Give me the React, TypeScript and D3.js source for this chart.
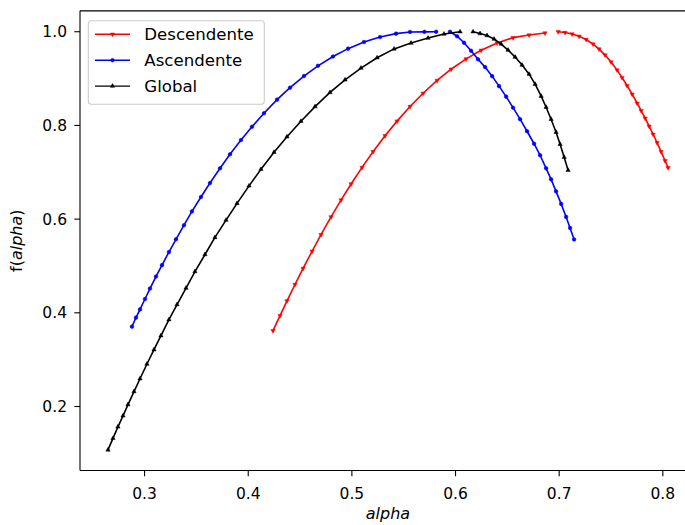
import React from 'react';
import * as d3 from 'd3';

// ---- Data ----
// Descendente (red): left branch and right branch
const descLeftAlpha = [0.4239, 0.4307, 0.4374, 0.4451, 0.4529, 0.4616, 0.4702, 0.4799, 0.4895, 0.4992, 0.5098, 0.5204, 0.5320, 0.5436, 0.5561, 0.5687, 0.5822, 0.5957, 0.6102, 0.6247, 0.6401, 0.6555, 0.6710, 0.6864];
const descLeftF = [0.3619, 0.394, 0.4255, 0.4605, 0.4948, 0.5313, 0.5668, 0.6047, 0.6406, 0.6749, 0.7104, 0.744, 0.7778, 0.8092, 0.8404, 0.8687, 0.896, 0.92, 0.942, 0.9604, 0.976, 0.9874, 0.9929, 0.9972];
const descRightAlpha = [0.6990, 0.7057, 0.7125, 0.7192, 0.7260, 0.7327, 0.7385, 0.7443, 0.7501, 0.7559, 0.7607, 0.7655, 0.7704, 0.7752, 0.7791, 0.7829, 0.7868, 0.7906, 0.7945, 0.7984, 0.8022, 0.8051];
const descRightF = [1.0, 0.9983, 0.9951, 0.9902, 0.9833, 0.9737, 0.963, 0.9502, 0.9352, 0.9181, 0.902, 0.8849, 0.8667, 0.8475, 0.8314, 0.8154, 0.7983, 0.7812, 0.763, 0.7437, 0.7245, 0.7095];

// Ascendente (blue)
const ascLeftAlpha = [0.2878, 0.2917, 0.2956, 0.3004, 0.3052, 0.3110, 0.3168, 0.3235, 0.3303, 0.3380, 0.3457, 0.3544, 0.3631, 0.3728, 0.3824, 0.3930, 0.4036, 0.4152, 0.4278, 0.4403, 0.4538, 0.4673, 0.4818, 0.4963, 0.5117, 0.5272, 0.5426, 0.5561, 0.5700, 0.5813];
const ascLeftF = [0.3705, 0.3897, 0.4073, 0.4295, 0.4518, 0.4774, 0.5018, 0.5298, 0.557, 0.587, 0.6165, 0.6473, 0.677, 0.7085, 0.7384, 0.7688, 0.7972, 0.8261, 0.855, 0.8806, 0.9055, 0.9273, 0.9472, 0.9639, 0.978, 0.9887, 0.9959, 0.9996, 0.9998, 1.0];
const ascRightAlpha = [0.5947, 0.6015, 0.6082, 0.6150, 0.6217, 0.6285, 0.6353, 0.6420, 0.6488, 0.6555, 0.6623, 0.6690, 0.6758, 0.6816, 0.6874, 0.6922, 0.6970, 0.7019, 0.7067, 0.7105, 0.7144];
const ascRightF = [1.0, 0.9904, 0.9765, 0.9594, 0.9412, 0.9245, 0.9052, 0.8839, 0.8614, 0.8379, 0.8133, 0.7876, 0.7609, 0.7363, 0.7085, 0.6849, 0.6593, 0.6325, 0.6047, 0.5812, 0.5566];

// Global (black)
const globLeftAlpha = [0.2647, 0.2695, 0.2743, 0.2792, 0.2840, 0.2898, 0.2956, 0.3023, 0.3091, 0.3158, 0.3235, 0.3313, 0.3400, 0.3486, 0.3583, 0.3679, 0.3786, 0.3892, 0.4008, 0.4123, 0.4249, 0.4374, 0.4509, 0.4645, 0.4789, 0.4934, 0.5088, 0.5243, 0.5407, 0.5571, 0.5735, 0.5889, 0.6044];
const globLeftF = [0.1074, 0.132, 0.1566, 0.1801, 0.2041, 0.2319, 0.2593, 0.2907, 0.3213, 0.3512, 0.3854, 0.4175, 0.4528, 0.4881, 0.5245, 0.5609, 0.5979, 0.6336, 0.671, 0.7063, 0.7427, 0.7758, 0.809, 0.8402, 0.8704, 0.8973, 0.9224, 0.9444, 0.9634, 0.9758, 0.9865, 0.9951, 1.0];
const globRightAlpha = [0.6169, 0.6237, 0.6304, 0.6372, 0.6440, 0.6507, 0.6575, 0.6642, 0.6710, 0.6768, 0.6826, 0.6874, 0.6922, 0.6970, 0.7009, 0.7048, 0.7086];
const globRightF = [1.0, 0.9961, 0.9919, 0.9844, 0.9737, 0.9609, 0.9459, 0.9288, 0.9095, 0.8881, 0.8625, 0.8389, 0.8133, 0.7856, 0.7598, 0.7321, 0.7042];

const xTicks = [0.3, 0.4, 0.5, 0.6, 0.7, 0.8];
const yTicks = [0.2, 0.4, 0.6, 0.8, 1.0];
const seriesNames = ['Descendente', 'Ascendente', 'Global'];
const seriesColors = ['#ff0000', '#0000ff', '#000000'];
const seriesMarkers = ['tridown', 'circle', 'triup'];

const FONT = 'DejaVu Sans, sans-serif';

type Pt = [number, number];
const zip = (a: number[], b: number[]): Pt[] => a.map((v, i) => [v, b[i]]);

function Marker({ kind, cx, cy, color }: { kind: string; cx: number; cy: number; color: string }) {
  if (kind === 'circle') {
    return <circle cx={cx} cy={cy} r={1.8} fill={color} stroke={color} strokeWidth={0.6} />;
  }
  const sym = d3.symbol().type(d3.symbolTriangle).size(8)();
  const rot = kind === 'tridown' ? 180 : 0;
  return <path d={sym || ''} transform={`translate(${cx},${cy}) rotate(${rot})`} fill={color} stroke={color} strokeWidth={0.5} />;
}

export default function App() {
  const x = d3.scaleLinear().domain([0.2377, 0.832]).range([80, 696]);
  const y = d3.scaleLinear().domain([0.0634, 1.0446]).range([470.5, 10.85]);
  const line = d3.line<Pt>().x((d) => x(d[0])).y((d) => y(d[1]));

  const series = [
    { branches: [zip(descLeftAlpha, descLeftF), zip(descRightAlpha, descRightF)] },
    { branches: [zip(ascLeftAlpha, ascLeftF), zip(ascRightAlpha, ascRightF)] },
    { branches: [zip(globLeftAlpha, globLeftF), zip(globRightAlpha, globRightF)] },
  ];

  const [x0, x1] = x.range();
  const [y0, y1] = y.range();

  return (
    <svg width={685} height={525} style={{ position: 'absolute', left: 0, top: 0, background: '#fff' }} fontFamily={FONT}>
      <rect x={0} y={0} width={685} height={525} fill="#fff" />
      {/* curves */}
      {series.map((s, si) => (
        <g key={si}>
          {s.branches.map((b, bi) => (
            <g key={bi}>
              <path d={line(b) || ''} fill="none" stroke={seriesColors[si]} strokeWidth={1.6} />
              {b.map((p, pi) => (
                <Marker key={pi} kind={seriesMarkers[si]} cx={x(p[0])} cy={y(p[1])} color={seriesColors[si]} />
              ))}
            </g>
          ))}
        </g>
      ))}
      {/* spines */}
      <g stroke="#000" strokeWidth={1.1} fill="none">
        <line x1={x0} x2={x0} y1={y0} y2={y1} />
        <line x1={x1} x2={x1} y1={y0} y2={y1} />
        <line x1={x0} x2={x1} y1={y0} y2={y0} />
        <line x1={x0} x2={x1} y1={y1} y2={y1} />
      </g>
      {/* x ticks */}
      {xTicks.map((t) => (
        <g key={t}>
          <line x1={x(t)} x2={x(t)} y1={y0} y2={y0 + 5.7} stroke="#000" strokeWidth={1.1} />
          <text x={x(t)} y={499} textAnchor="middle" fontSize={15.5} fill="#000">{t.toFixed(1)}</text>
        </g>
      ))}
      {/* y ticks */}
      {yTicks.map((t) => (
        <g key={t}>
          <line x1={x0} x2={x0 - 5.7} y1={y(t)} y2={y(t)} stroke="#000" strokeWidth={1.1} />
          <text x={67} y={y(t)} dy="0.36em" textAnchor="end" fontSize={15.5} fill="#000">{t.toFixed(1)}</text>
        </g>
      ))}
      {/* axis labels */}
      <text x={(x0 + x1) / 2} y={519} textAnchor="middle" fontSize={16} fontStyle="italic" fill="#000">alpha</text>
      <text transform={`translate(22,${(y0 + y1) / 2}) rotate(-90)`} textAnchor="middle" fontSize={16} fill="#000">
        f(<tspan fontStyle="italic">alpha</tspan>)
      </text>
      {/* legend */}
      <g>
        <rect x={88.3} y={20.7} width={176} height={83.6} rx={3} ry={3} fill="#fff" fillOpacity={0.8} stroke="#cccccc" strokeWidth={1.1} />
        {seriesNames.map((n, i) => {
          const ly = 34.3 + i * 25.9;
          return (
            <g key={n}>
              <line x1={95} x2={130} y1={ly} y2={ly} stroke={seriesColors[i]} strokeWidth={1.4} />
              <Marker kind={seriesMarkers[i]} cx={112.5} cy={ly} color={seriesColors[i]} />
              <text x={144.3} y={ly} dy="0.36em" fontSize={16.6} fill="#000">{n}</text>
            </g>
          );
        })}
      </g>
    </svg>
  );
}
